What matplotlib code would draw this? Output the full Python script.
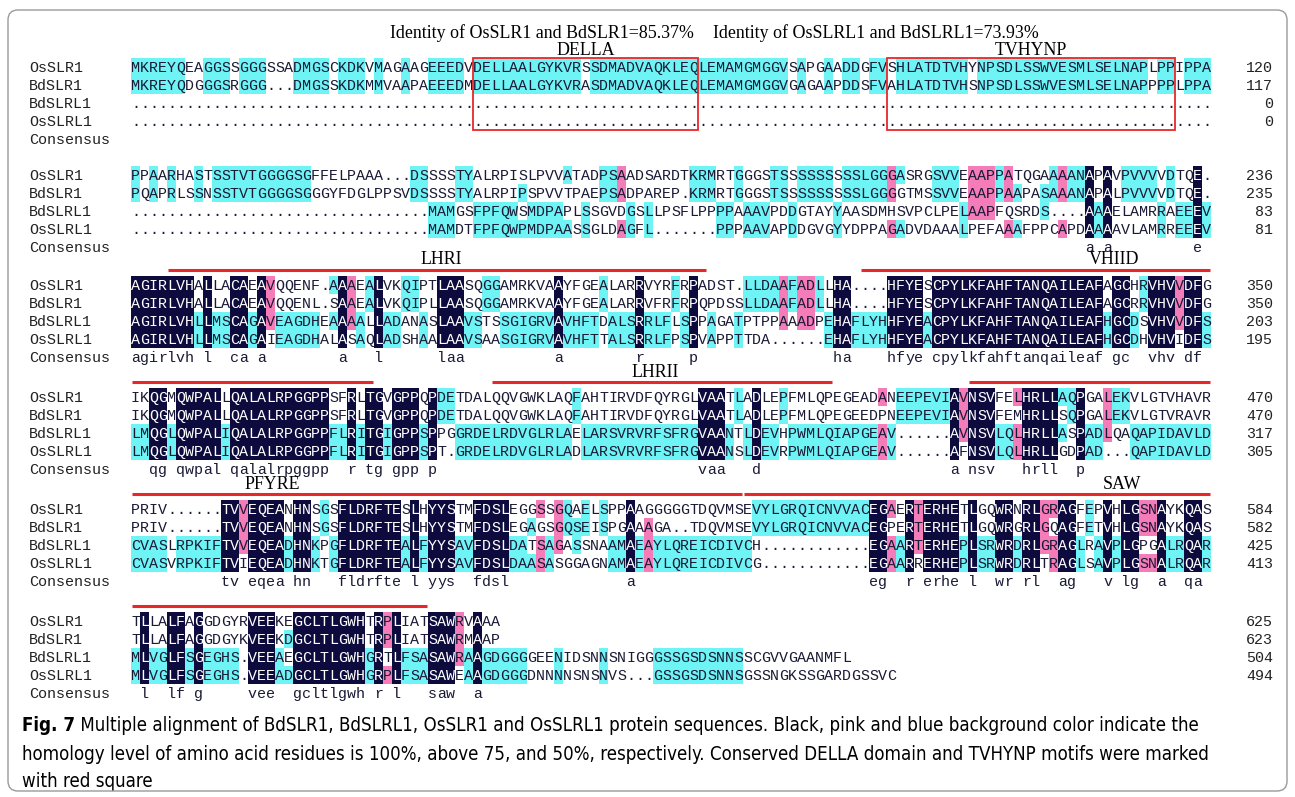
import matplotlib
matplotlib.use("Agg")
import matplotlib.pyplot as plt
from matplotlib.patches import Rectangle, FancyBboxPatch
from matplotlib.font_manager import FontProperties, fontManager
from collections import Counter

W, H, DPI = 1295, 797, 100

# ---------------------------------------------------------------- data
names = ["OsSLR1", "BdSLR1", "BdSLRL1", "OsSLRL1"]

OsSLR1 = [
    "MKREYQEAGGSSGGGSSADMGSCKDKVMAGAAGEEEDVDELLAALGYKVRSSDMADVAQKLEQLEMAMGMGGVSAPGAADDGFVSHLATDTVHYNPSDLSSWVESMLSELNAPLPPIPPA",
    "PPAARHASTSSTVTGGGGSGFFELPAAA...DSSSSTYALRPISLPVVATADPSAADSARDTKRMRTGGGSTSSSSSSSSSLGGGASRGSVVEAAPPATQGAAAANAPAVPVVVVDTQE.",
    "AGIRLVHALLACAEAVQQENF.AAAEALVKQIPTLAASQGGAMRKVAAYFGEALARRVYRFRPADST.LLDAAFADLLHA....HFYESCPYLKFAHFTANQAILEAFAGCHRVHVVDFG",
    "IKQGMQWPALLQALALRPGGPPSFRLTGVGPPQPDETDALQQVGWKLAQFAHTIRVDFQYRGLVAATLADLEPFMLQPEGEADANEEPEVIAVNSVFELHRLLAQPGALEKVLGTVHAVR",
    "PRIV......TVVEQEANHNSGSFLDRFTESLHYYSTMFDSLEGGSSGQAELSPPAAGGGGGTDQVMSEVYLGRQICNVVACEGAERTERHETLGQWRNRLGRAGFEPVHLGSNAYKQAS",
    "TLLALFAGGDGYRVEEKEGCLTLGWHTRPLIATSAWRVAAA",
]
BdSLR1 = [
    "MKREYQDGGGSRGGG...DMGSSKDKMMVAAPAEEEDMDELLAALGYKVRASDMADVAQKLEQLEMAMGMGGVGAGAAPDDSFVAHLATDTVHSNPSDLSSWVESMLSELNAPPPPLPPA",
    "PQAPRLSSNSSTVTGGGGSGGGYFDGLPPSVDSSSSTYALRPIPSPVVTPAEPSADPAREP.KRMRTGGGSTSSSSSSSSSLGGGGTMSSVVEAAPPAAPASAAANAPALPVVVVDTQE.",
    "AGIRLVHALLACAEAVQQENL.SAAEALVKQIPLLAASQGGAMRKVAAYFGEALARRVFRFRPQPDSSLLDAAFADLLHA....HFYESCPYLKFAHFTANQAILEAFAGCRRVHVVDFG",
    "IKQGMQWPALLQALALRPGGPPSFRLTGVGPPQPDETDALQQVGWKLAQFAHTIRVDFQYRGLVAATLADLEPFMLQPEGEEDPNEEPEVIAVNSVFEMHRLLSQPGALEKVLGTVRAVR",
    "PRIV......TVVEQEANHNSGSFLDRFTESLHYYSTMFDSLEGAGSGQSEISPGAAAGA..TDQVMSEVYLGRQICNVVACEGPERTERHETLGQWRGRLGQAGFETVHLGSNAYKQAS",
    "TLLALFAGGDGYKVEEKDGCLTLGWHTRPLIATSAWRMAAP",
]
BdSLRL1 = [
    "........................................................................................................................",
    ".................................MAMGSFPFQWSMDPAPLSSGVDGSLLPSFLPPPPAAAVPDDGTAYYAASDMHSVPCLPELAAPFQSRDS....AAAELAMRRAEEEV",
    "AGIRLVHLLMSCAGAVEAGDHEAAAALLADANASLAAVSTSSGIGRVAVHFTDALSRRLFLSPPAGATPTPPAAADPEHAFLYHHFYEACPYLKFAHFTANQAILEAFHGCDSVHVVDFS",
    "LMQGLQWPALIQALALRPGGPPFLRITGIGPPSPPGGRDELRDVGLRLAELARSVRVRFSFRGVAANTLDEVHPWMLQIAPGEAV......AVNSVLQLHRLLASPADLQAQAPIDAVLD",
    "CVASLRPKIFTVVEQEADHNKPGFLDRFTEALFYYSAVFDSLDATSAGASSNAAMAEAYLQREICDIVCH............EGAARTERHEPLSRWRDRLGRAGLRAVPLGPGALRQAR",
    "MLVGLFSGEGHS.VEEAEGCLTLGWHGRTLFSASAWRAAGDGGGGEENIDSNNSNIGGGSSGSDSNNSSCGVVGAANMFL",
]
OsSLRL1 = [
    "........................................................................................................................",
    ".................................MAMDTFPFQWPMDPAASSGLDAGFL.......PPPAAVAPDDGVGYYDPPAGADVDAAALPEFAAAFPPCAPDAAAAVLAMRREEEV",
    "AGIRLVHLLMSCAGAIEAGDHALASAQLADSHAALAAVSAASGIGRVAVHFTTALSRRLFPSPVAPPTTDA......EHAFLYHHFYEACPYLKFAHFTANQAILEAFHGCDHVHVIDFS",
    "LMQGLQWPALIQALALRPGGPPFLRITGIGPPSPT.GRDELRDVGLRLADLARSVRVRFSFRGVAANSLDEVRPWMLQIAPGEAV......AFNSVLQLHRLLGDPAD...QAPIDAVLD",
    "CVASVRPKIFTVIEQEADHNKTGFLDRFTEALFYYSAVFDSLDAASASGGAGNAMAEAYLQREICDIVCG............EGAARRERHEPLSRWRDRLTRAGLSAVPLGSNALRQAR",
    "MLVGLFSGEGHS.VEEADGCLTLGWHGRPLFSASAWEAAGDGGGDNNNNSNSNVS...GSSGSDSNNSGSSNGKSSGARDGSSVC",
]
sequences = [OsSLR1, BdSLR1, BdSLRL1, OsSLRL1]

end_OsSLR1 = [120, 236, 350, 470, 584, 625]
end_BdSLR1 = [117, 235, 350, 470, 582, 623]
end_BdSLRL1 = [0, 83, 203, 317, 425, 504]
end_OsSLRL1 = [0, 81, 195, 305, 413, 494]
end_numbers = [end_OsSLR1, end_BdSLR1, end_BdSLRL1, end_OsSLRL1]

# motif boxes: (block, label, first column, last column)
motif_boxes = [(0, "DELLA", 39, 63), (0, "TVHYNP", 85, 116)]
# domain bars: (block, first column, last column)
domain_bars = [(2, 5, 64), (2, 82, 120), (3, 1, 27), (3, 41, 78), (3, 94, 120),
               (4, 1, 68), (4, 69, 120), (5, 1, 33)]
# domain names: (block, label, column position)
domain_names = [(2, "LHRI", 35.0), (2, "VHIID", 109.7), (3, "LHRII", 58.7),
                (4, "PFYRE", 16.2), (4, "SAW", 110.6)]
identity_notes = [("Identity of OsSLR1 and BdSLR1=85.37%", 390),
                  ("Identity of OsSLRL1 and BdSLRL1=73.93%", 713)]

caption_bold = "Fig. 7"
caption_lines = [
    " Multiple alignment of BdSLR1, BdSLRL1, OsSLR1 and OsSLRL1 protein sequences. Black, pink and blue background color indicate the",
    "homology level of amino acid residues is 100%, above 75, and 50%, respectively. Conserved DELLA domain and TVHYNP motifs were marked",
    "with red square",
]

# ---------------------------------------------------------------- layout / style
X0, CW, RH = 131.0, 9.0, 18.0
BLOCK_Y = [67, 175, 285, 397, 509, 621]
NAME_X, NUM_X = 29, 1273
MONO = "Liberation Mono"
SERIF = "Liberation Serif"
FS = 10.8
C_BLACK, C_PINK, C_CYAN = "#0d0b3e", "#f47cb8", "#6ff4f6"
C_TEXT = "#1a1a36"
RED = "#e8262b"

for b in range(5):
    for s, nm in zip(sequences, names):
        if len(s[b]) != 120:
            raise ValueError(f"{nm} block {b} has {len(s[b])} columns")


def caption_props(weight):
    """Prefer a narrow sans face for the caption, if one is installed."""
    for f in fontManager.ttflist:
        narrow = f.name in ("Liberation Sans Narrow",) or (
            f.name == "DejaVu Sans" and str(f.stretch) in ("condensed", "semi-condensed"))
        bold = f.weight in ("bold", 700)
        if narrow and bold == (weight == "bold") and f.style == "normal":
            return FontProperties(fname=f.fname)
    return FontProperties(family=["Open Sans", "DejaVu Sans"], weight=weight)


def col_left(c):
    return X0 + (c - 1) * CW


def col_center(c):
    return X0 + (c - 0.5) * CW


def shade_levels(rows):
    """Per-row, per-column shading from column identity (4/3/2 of 4)."""
    n = max(len(r) for r in rows)
    out = [[None] * n for _ in rows]
    cons = [" "] * n
    for c in range(n):
        res = [(i, r[c]) for i, r in enumerate(rows) if c < len(r) and r[c] != "."]
        if not res:
            continue
        cnt = Counter(ch for _, ch in res)
        top = max(cnt.values())
        if top < 2:
            continue
        cands = [ch for ch, k in cnt.items() if k == top]
        # ties go to the residue found furthest down the column
        best = max(cands, key=lambda ch: max(i for i, x in res if x == ch))
        level = {4: C_BLACK, 3: C_PINK, 2: C_CYAN}[top]
        for i, ch in res:
            if ch == best:
                out[i][c] = level
        if top == 4:
            cons[c] = best.lower()
    return out, cons


fig = plt.figure(figsize=(W / DPI, H / DPI), dpi=DPI)
ax = fig.add_axes([0, 0, 1, 1])
ax.set_xlim(0, W)
ax.set_ylim(H, 0)
ax.axis("off")
renderer = fig.canvas.get_renderer()


def fitted_size(text, target_w, base=12.0, **kw):
    t = ax.text(0, 0, text, fontsize=base, **kw)
    w = t.get_window_extent(renderer).width
    t.remove()
    return base * target_w / w


for b in range(6):
    rows = [s[b] for s in sequences]
    levels, cons = shade_levels(rows)
    y0 = BLOCK_Y[b]
    for r, seq in enumerate(rows):
        yc = y0 + r * RH
        c = 0
        while c < len(seq):
            col = levels[r][c]
            if col is None:
                c += 1
                continue
            e = c
            while e + 1 < len(seq) and levels[r][e + 1] == col:
                e += 1
            ax.add_patch(Rectangle((col_left(c + 1), yc - RH / 2), (e - c + 1) * CW, RH,
                                   facecolor=col, edgecolor="none", antialiased=False, zorder=1))
            c = e + 1
        for c, ch in enumerate(seq):
            tc = "white" if levels[r][c] == C_BLACK else C_TEXT
            ax.text(col_center(c + 1), yc + 4.9, ch, ha="center", va="baseline",
                    fontfamily=MONO, fontsize=FS, color=tc, zorder=3)
        ax.text(NAME_X, yc + 4.9, names[r], ha="left", va="baseline",
                fontfamily=MONO, fontsize=FS, color="#222222")
        ax.text(NUM_X, yc + 4.9, str(end_numbers[r][b]), ha="right", va="baseline",
                fontfamily=MONO, fontsize=FS, color="#222222")
    yc = y0 + 4 * RH
    ax.text(NAME_X, yc + 4.9, "Consensus", ha="left", va="baseline",
            fontfamily=MONO, fontsize=FS, color="#222222")
    for c, ch in enumerate(cons):
        if ch != " ":
            ax.text(col_center(c + 1), yc + 4.9, ch, ha="center", va="baseline",
                    fontfamily=MONO, fontsize=FS, color=C_TEXT)

# headers
head_fs = fitted_size(identity_notes[0][0], 303, fontfamily=SERIF)
for txt, x in identity_notes:
    ax.text(x, 33, txt, ha="left", va="center", fontfamily=SERIF, fontsize=head_fs, color="black")

for b, label, c0, c1 in motif_boxes:
    y0 = BLOCK_Y[b]
    ax.add_patch(Rectangle((col_left(c0), y0 - RH / 2), (c1 - c0 + 1) * CW, 4 * RH,
                           fill=False, edgecolor=RED, linewidth=1.3, zorder=4))
    ax.text((col_left(c0) + col_left(c1 + 1)) / 2, y0 - 17, label, ha="center", va="center",
            fontfamily=SERIF, fontsize=head_fs, color="black")

for b, c0, c1 in domain_bars:
    y = BLOCK_Y[b] - 15
    ax.plot([col_left(c0) + 1, col_left(c1 + 1) - 1], [y, y], color=RED, lw=2.2,
            solid_capstyle="butt", zorder=4)

for b, label, cpos in domain_names:
    ax.text(X0 + (cpos - 0.5) * CW, BLOCK_Y[b] - 25, label, ha="center", va="center",
            fontfamily=SERIF, fontsize=head_fs, color="black")

# caption
fp_reg = caption_props("normal")
fp_bold = caption_props("bold")
cap_fs = fitted_size(caption_lines[1], 1190, fontproperties=fp_reg)
fp_reg.set_size(cap_fs)
fp_bold.set_size(cap_fs)
cap_y = [731, 760, 787]
tb = ax.text(22, cap_y[0], caption_bold, ha="left", va="baseline", fontproperties=fp_bold,
             color="black")
bw = tb.get_window_extent(renderer).width
ax.text(22 + bw, cap_y[0], caption_lines[0], ha="left", va="baseline", fontproperties=fp_reg,
        color="black")
for line, y in zip(caption_lines[1:], cap_y[1:]):
    ax.text(22, y, line, ha="left", va="baseline", fontproperties=fp_reg, color="black")

ax.add_patch(FancyBboxPatch((8, 10), 1279, 781, boxstyle="round,pad=0,rounding_size=10",
                            fill=False, edgecolor="#9a9a9a", linewidth=1.0, zorder=5))

fig.savefig("out.png", dpi=DPI, facecolor="white")
